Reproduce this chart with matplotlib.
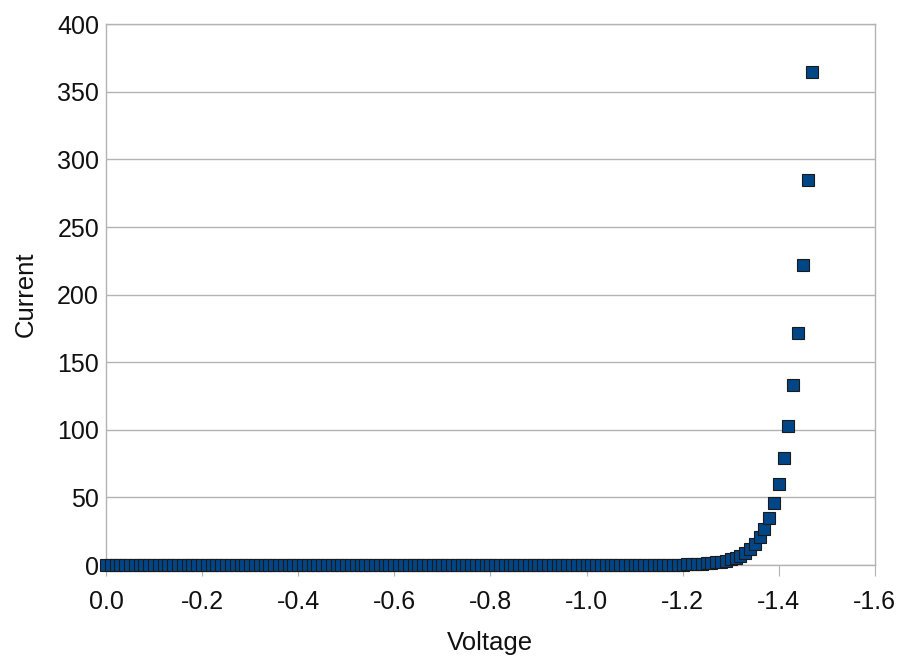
import numpy as np
import matplotlib
matplotlib.use('Agg')
import matplotlib.pyplot as plt

plt.rcParams['font.family'] = ['Liberation Sans', 'DejaVu Sans']

# Voltage steps of 0.01 V from 0 down to -1.47
voltage = np.round(np.arange(0, -1.475, -0.01), 2)

# Current: flat near zero until about -1.2 V, then an exponential rise
current_flat = [0.0] * 108          # 0.00 .. -1.07
current_tail = [
    0.02, 0.03, 0.03, 0.04, 0.05, 0.07, 0.09, 0.11, 0.14, 0.18,   # -1.08 .. -1.17
    0.23, 0.28, 0.33, 0.43, 0.55, 0.7, 0.9, 1.2, 1.5, 1.9,        # -1.18 .. -1.27
    2.5, 3.2, 4.1, 5.3, 7.0, 9.0, 12.0, 15.5, 20.5, 27.0,         # -1.28 .. -1.37
    35.0, 46.0, 60.0, 79.0, 103.0, 133.0, 172.0, 222.0, 285.0, 365.0,  # -1.38 .. -1.47
]
current = current_flat + current_tail

xticks = [0.0, -0.2, -0.4, -0.6, -0.8, -1.0, -1.2, -1.4, -1.6]
yticks = [0, 50, 100, 150, 200, 250, 300, 350, 400]

fig = plt.figure(figsize=(9.01, 6.57), dpi=100)
ax = fig.add_axes([0.1176, 0.140, 0.8534, 0.823])

ax.plot(voltage, current, linestyle='none', marker='s', markersize=8.3,
        markerfacecolor='#004586', markeredgecolor='#1a1a1a', markeredgewidth=0.8,
        clip_on=False, zorder=3)

ax.set_xlim(0.0, -1.6)
ax.set_ylim(0, 400)
ax.set_xticks(xticks)
ax.set_xticklabels([f'{t:.1f}' for t in xticks])
ax.set_yticks(yticks)

ax.yaxis.grid(True, color='#b3b3b3', linewidth=1)
ax.set_axisbelow(True)
for s in ax.spines.values():
    s.set_color('#b3b3b3')
    s.set_linewidth(1)

ax.tick_params(axis='x', direction='out', length=8, color='#b3b3b3', labelsize=18, pad=10, labelcolor='#111111')
ax.tick_params(axis='y', length=0, labelsize=18, pad=5, labelcolor='#111111')

ax.set_xlabel('Voltage', fontsize=18.5, color='#111111', labelpad=12)
ax.set_ylabel('Current', fontsize=18.5, color='#111111', labelpad=14)

fig.savefig('out.png', dpi=100)
